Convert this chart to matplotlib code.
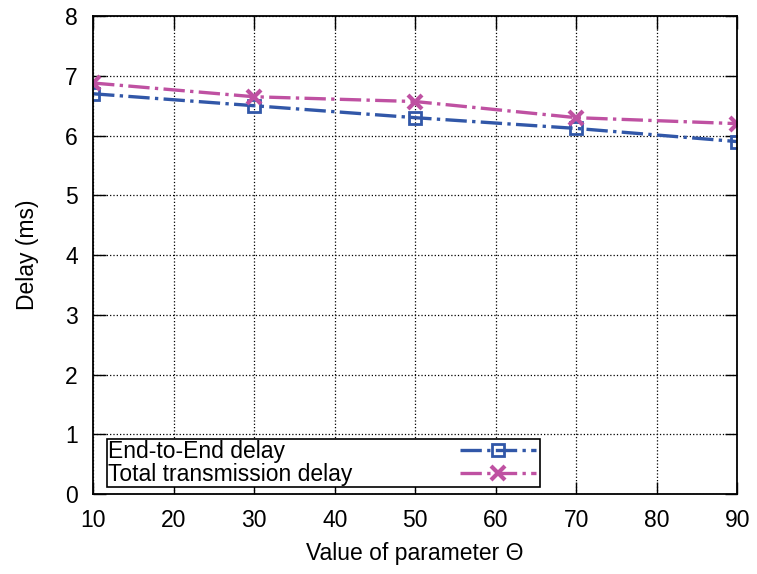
import numpy as np
import matplotlib.pyplot as plt

plt.rcParams['font.family'] = ['Liberation Sans', 'DejaVu Sans']

theta = [10, 30, 50, 70, 90]
e2e_delay = [6.7, 6.5, 6.3, 6.12, 5.9]
total_delay = [6.88, 6.65, 6.57, 6.3, 6.2]

fig = plt.figure(figsize=(7.57, 5.74), dpi=100)
ax = fig.add_axes([0.123, 0.139, 0.851, 0.833])

ax.plot(theta, e2e_delay, color='#3157a8', linestyle='-.', linewidth=2.4,
        marker='s', markersize=8.5, markerfacecolor='none', markeredgewidth=2,
        label='End-to-End delay')
ax.plot(theta, total_delay, color='#bf51a2', linestyle='-.', linewidth=2.4,
        marker='x', markersize=10, markeredgewidth=3,
        label='Total transmission delay')

ax.set_xlim(10, 90)
ax.set_ylim(0, 8)
ax.set_xticks(np.arange(10, 91, 10))
ax.set_yticks(np.arange(0, 9, 1))
ax.grid(True, color='black', linestyle=':', linewidth=0.9)
ax.tick_params(direction='in', length=9, width=1, top=True, right=True,
               labelsize=16.5, pad=11)
for s in ax.spines.values():
    s.set_linewidth(1.3)

ax.set_xlabel('Value of parameter Θ', fontsize=16.5, labelpad=7)
ax.set_ylabel('Delay (ms)', fontsize=16.5, labelpad=19)

leg = ax.legend(loc='lower left', bbox_to_anchor=(0.022, 0.015, 0.672, 0.111),
                mode='expand', markerfirst=False, handlelength=3.3,
                fontsize=16.5, fancybox=False, framealpha=1, edgecolor='black',
                borderpad=0.05, labelspacing=0.0, borderaxespad=0, handletextpad=0)
leg.get_frame().set_linewidth(1.2)

# line up the texts on the left and the handles on the right
fig.canvas.draw()
r = fig.canvas.get_renderer()
widths = [t.get_window_extent(r).width for t in leg.get_texts()]
rows = leg._legend_handle_box.get_children()[0].get_children()
for row, w in zip(rows, widths):
    row.sep = (352 - w) / 1.389

plt.savefig('out.png')
